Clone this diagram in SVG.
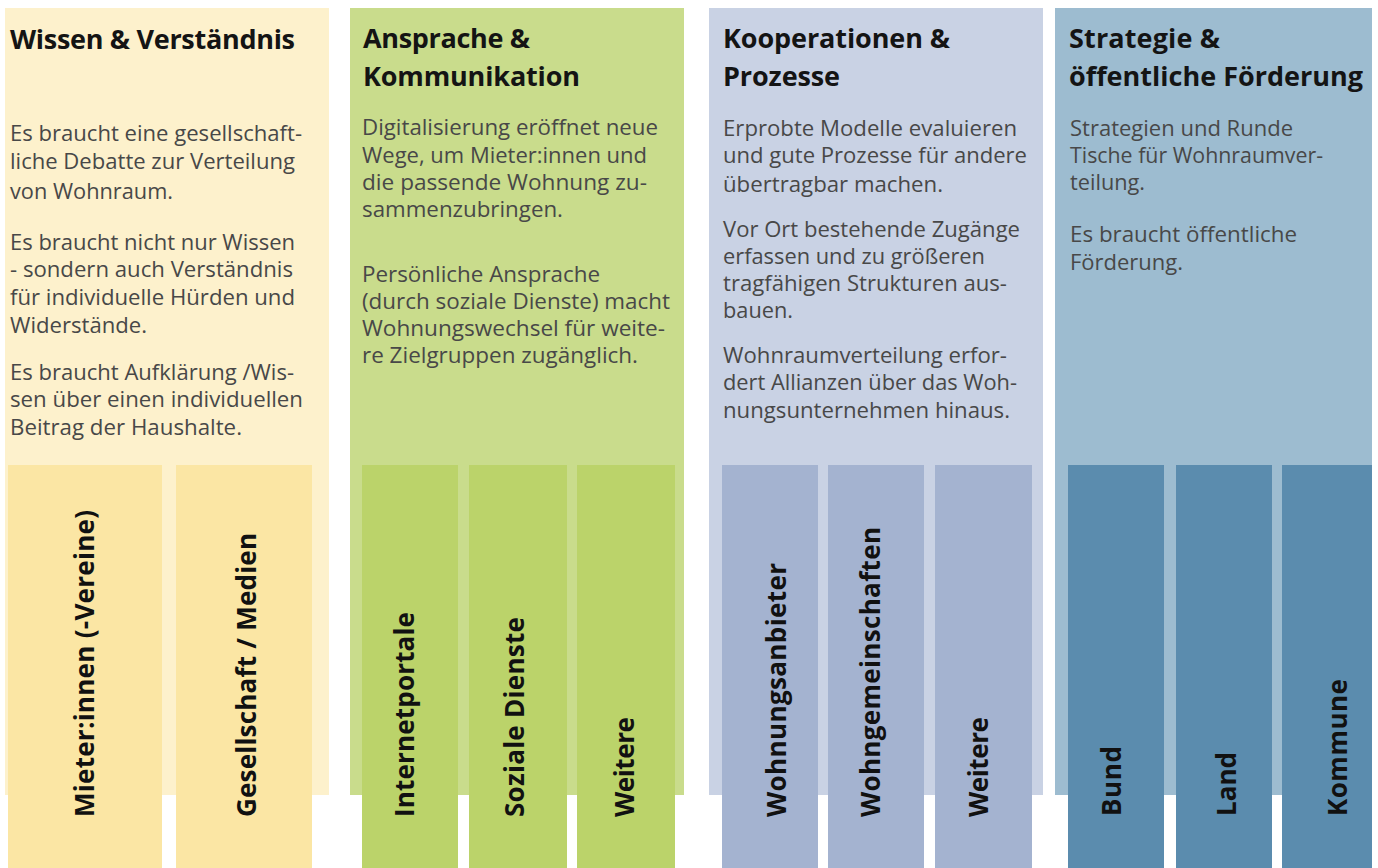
<svg xmlns="http://www.w3.org/2000/svg" width="1378" height="868" viewBox="0 0 1378 868">
<style>
.h{font-family:"Open Sans","Noto Sans","Liberation Sans",sans-serif;font-weight:700;font-size:27px;fill:#141414}
.b{font-family:"Open Sans","Noto Sans","Liberation Sans",sans-serif;font-weight:400;font-size:21.5px;fill:#484848}
.v{font-family:"Open Sans","Noto Sans","Liberation Sans",sans-serif;font-weight:700;font-size:26px;fill:#111}
.p1{fill:#FDF1CC}.s1{fill:#FBE6A4}
.p2{fill:#C9DC8C}.s2{fill:#BBD36A}
.p3{fill:#C9D2E4}.s3{fill:#A4B3D0}
.p4{fill:#9DBCD0}.s4{fill:#5B8CAE}
</style>
<rect width="1378" height="868" fill="#FFFFFF"/>

<g id="col-wissen">
<rect class="p1" x="5" y="8" width="324" height="787"/>
<text class="h" x="10" y="49" textLength="285">Wissen &amp; Verständnis</text>
<text class="b" x="10" y="141" textLength="292" lengthAdjust="spacingAndGlyphs">Es braucht eine gesellschaft-</text>
<text class="b" x="10" y="169" textLength="285" lengthAdjust="spacingAndGlyphs">liche Debatte zur Verteilung</text>
<text class="b" x="10" y="199" textLength="163" lengthAdjust="spacingAndGlyphs">von Wohnraum.</text>
<text class="b" x="10" y="250" textLength="285" lengthAdjust="spacingAndGlyphs">Es braucht nicht nur Wissen</text>
<text class="b" x="10" y="277" textLength="283" lengthAdjust="spacingAndGlyphs">- sondern auch Verständnis</text>
<text class="b" x="10" y="305" textLength="285" lengthAdjust="spacingAndGlyphs">für individuelle Hürden und</text>
<text class="b" x="10" y="333" textLength="137" lengthAdjust="spacingAndGlyphs">Widerstände.</text>
<text class="b" x="10" y="380" textLength="284" lengthAdjust="spacingAndGlyphs">Es braucht Aufklärung /Wis-</text>
<text class="b" x="10" y="407" textLength="293" lengthAdjust="spacingAndGlyphs">sen über einen individuellen</text>
<text class="b" x="10" y="435" textLength="232" lengthAdjust="spacingAndGlyphs">Beitrag der Haushalte.</text>
<g id="bar-mieter">
<rect class="s1" x="8" y="465" width="154" height="403"/>
<text class="v" transform="translate(94,817) rotate(-90)" textLength="307">Mieter:innen (-Vereine)</text>
</g>
<g id="bar-gesellschaft">
<rect class="s1" x="176" y="465" width="136" height="403"/>
<text class="v" transform="translate(256,817) rotate(-90)" textLength="284">Gesellschaft / Medien</text>
</g>
</g>

<g id="col-ansprache">
<rect class="p2" x="350" y="8" width="334" height="787"/>
<text class="h" x="363" y="48" textLength="167">Ansprache &amp;</text>
<text class="h" x="363" y="86" textLength="217">Kommunikation</text>
<text class="b" x="362" y="135" textLength="296" lengthAdjust="spacingAndGlyphs">Digitalisierung eröffnet neue</text>
<text class="b" x="362" y="163" textLength="285" lengthAdjust="spacingAndGlyphs">Wege, um Mieter:innen und</text>
<text class="b" x="362" y="190" textLength="285" lengthAdjust="spacingAndGlyphs">die passende Wohnung zu-</text>
<text class="b" x="362" y="217" textLength="201" lengthAdjust="spacingAndGlyphs">sammenzubringen.</text>
<text class="b" x="362" y="282" textLength="238" lengthAdjust="spacingAndGlyphs">Persönliche Ansprache</text>
<text class="b" x="362" y="309" textLength="308" lengthAdjust="spacingAndGlyphs">(durch soziale Dienste) macht</text>
<text class="b" x="362" y="336" textLength="303" lengthAdjust="spacingAndGlyphs">Wohnungswechsel für weite-</text>
<text class="b" x="362" y="363" textLength="276" lengthAdjust="spacingAndGlyphs">re Zielgruppen zugänglich.</text>
<g id="bar-internetportale">
<rect class="s2" x="362" y="465" width="96" height="403"/>
<text class="v" transform="translate(414,817) rotate(-90)" textLength="205">Internetportale</text>
</g>
<g id="bar-soziale">
<rect class="s2" x="469" y="465" width="98" height="403"/>
<text class="v" transform="translate(524,817) rotate(-90)" textLength="200">Soziale Dienste</text>
</g>
<g id="bar-weitere-2">
<rect class="s2" x="577" y="465" width="98" height="403"/>
<text class="v" transform="translate(634,817) rotate(-90)" textLength="100">Weitere</text>
</g>
</g>

<g id="col-kooperationen">
<rect class="p3" x="709" y="8" width="334" height="787"/>
<text class="h" x="723" y="48" textLength="227">Kooperationen &amp;</text>
<text class="h" x="723" y="86" textLength="117">Prozesse</text>
<text class="b" x="723" y="136" textLength="294" lengthAdjust="spacingAndGlyphs">Erprobte Modelle evaluieren</text>
<text class="b" x="723" y="163" textLength="304" lengthAdjust="spacingAndGlyphs">und gute Prozesse für andere</text>
<text class="b" x="723" y="192" textLength="220" lengthAdjust="spacingAndGlyphs">übertragbar machen.</text>
<text class="b" x="723" y="237" textLength="297" lengthAdjust="spacingAndGlyphs">Vor Ort bestehende Zugänge</text>
<text class="b" x="723" y="264" textLength="262" lengthAdjust="spacingAndGlyphs">erfassen und zu größeren</text>
<text class="b" x="723" y="291" textLength="284" lengthAdjust="spacingAndGlyphs">tragfähigen Strukturen aus-</text>
<text class="b" x="723" y="318" textLength="70" lengthAdjust="spacingAndGlyphs">bauen.</text>
<text class="b" x="723" y="363" textLength="284" lengthAdjust="spacingAndGlyphs">Wohnraumverteilung erfor-</text>
<text class="b" x="723" y="390" textLength="294" lengthAdjust="spacingAndGlyphs">dert Allianzen über das Woh-</text>
<text class="b" x="723" y="418" textLength="287" lengthAdjust="spacingAndGlyphs">nungsunternehmen hinaus.</text>
<g id="bar-wohnungsanbieter">
<rect class="s3" x="722" y="465" width="96" height="403"/>
<text class="v" transform="translate(786,817) rotate(-90)" textLength="254">Wohnungsanbieter</text>
</g>
<g id="bar-wohngemeinschaften">
<rect class="s3" x="828" y="465" width="96" height="403"/>
<text class="v" transform="translate(880,817) rotate(-90)" textLength="290">Wohngemeinschaften</text>
</g>
<g id="bar-weitere-3">
<rect class="s3" x="935" y="465" width="97" height="403"/>
<text class="v" transform="translate(988,817) rotate(-90)" textLength="100">Weitere</text>
</g>
</g>

<g id="col-strategie">
<rect class="p4" x="1055" y="8" width="317" height="787"/>
<text class="h" x="1069" y="48" textLength="151">Strategie &amp;</text>
<text class="h" x="1069" y="86" textLength="294">öffentliche Förderung</text>
<text class="b" x="1070" y="136" textLength="223" lengthAdjust="spacingAndGlyphs">Strategien und Runde</text>
<text class="b" x="1070" y="163" textLength="253" lengthAdjust="spacingAndGlyphs">Tische für Wohnraumver-</text>
<text class="b" x="1070" y="190" textLength="75" lengthAdjust="spacingAndGlyphs">teilung.</text>
<text class="b" x="1070" y="242" textLength="227" lengthAdjust="spacingAndGlyphs">Es braucht öffentliche</text>
<text class="b" x="1070" y="270" textLength="113" lengthAdjust="spacingAndGlyphs">Förderung.</text>
<g id="bar-bund">
<rect class="s4" x="1068" y="465" width="96" height="403"/>
<text class="v" transform="translate(1121,816) rotate(-90)" textLength="70">Bund</text>
</g>
<g id="bar-land">
<rect class="s4" x="1176" y="465" width="96" height="403"/>
<text class="v" transform="translate(1236,816) rotate(-90)" textLength="64">Land</text>
</g>
<g id="bar-kommune">
<rect class="s4" x="1282" y="465" width="90" height="403"/>
<text class="v" transform="translate(1347,816) rotate(-90)" textLength="137">Kommune</text>
</g>
</g>
</svg>
